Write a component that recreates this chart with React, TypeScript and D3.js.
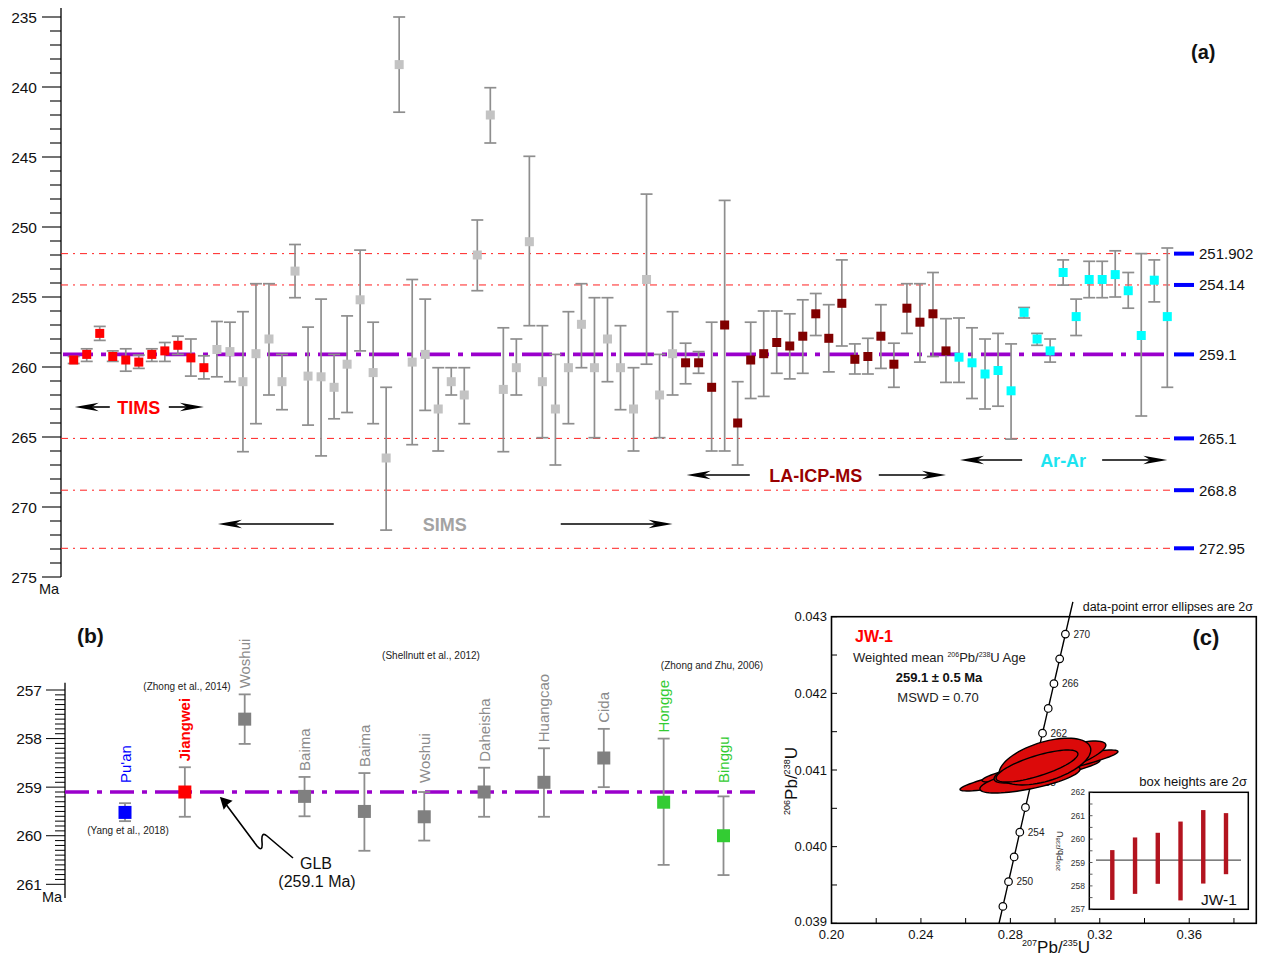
import React from 'react';
import * as d3 from 'd3';

const FONT = '"Liberation Sans", Arial, Helvetica, sans-serif';

// ---------- Panel (a): compiled ages, rows are [age, young bound, old bound] in Ma ----------
const timsAges: [number, number, number][] = [
  [259.5, 259.25, 259.75], [259.1, 258.7, 259.6], [257.6, 257.1, 258.1], [259.25, 258.85, 259.6],
  [259.5, 258.7, 260.3], [259.65, 259.15, 260.1], [259.1, 258.7, 259.6], [258.85, 258.25, 259.6],
  [258.45, 257.8, 259.1], [259.35, 258.0, 260.65], [260.05, 259.2, 260.85],
];
const simsAges: [number, number, number][] = [
  [258.75, 256.75, 260.7], [258.9, 256.8, 261.05], [261.05, 256.05, 266.05], [259.05, 254.05, 264.05],
  [258.0, 254.05, 262.0], [261.05, 259.1, 263.05], [253.15, 251.25, 255.05], [260.65, 257.15, 264.15],
  [260.7, 255.15, 266.35], [261.45, 259.1, 263.7], [259.8, 256.35, 263.25], [255.2, 251.65, 258.85],
  [260.4, 256.8, 264.05], [266.5, 261.45, 271.65], [238.4, 235.0, 241.8], [259.65, 253.75, 265.55],
  [259.1, 255.15, 263.1], [263.0, 260.05, 266.0], [261.05, 260.05, 262.0], [262.0, 260.05, 264.05],
  [252.0, 249.5, 254.55], [242.0, 240.05, 244.0], [261.6, 257.2, 266.05], [260.05, 258.0, 262.0],
  [251.05, 244.95, 257.05], [261.05, 257.05, 265.05], [263.0, 259.1, 267.0], [260.05, 256.05, 264.05],
  [256.95, 254.05, 260.05], [260.05, 255.05, 265.05], [258.0, 255.05, 261.05], [260.05, 257.05, 263.05],
  [263.0, 260.05, 266.0], [253.75, 247.65, 259.8], [262.0, 259.1, 265.05], [259.05, 256.05, 262.0],
];
const laIcpMsAges: [number, number, number][] = [
  [259.7, 258.3, 261.2], [259.7, 258.9, 260.45], [261.45, 256.8, 266.0], [257.0, 248.1, 266.0],
  [264.0, 261.05, 267.0], [259.5, 256.8, 262.25], [259.05, 256.0, 262.1], [258.25, 256.0, 260.45],
  [258.5, 256.2, 260.85], [257.8, 255.2, 260.45], [256.2, 254.75, 257.75], [257.95, 255.55, 260.35],
  [255.45, 252.35, 258.5], [259.45, 258.35, 260.5], [259.25, 257.95, 260.5], [257.8, 255.55, 260.1],
  [259.8, 258.3, 261.45], [255.8, 254.05, 257.6], [256.8, 254.05, 259.65], [256.2, 253.25, 259.25],
  [258.85, 256.55, 261.1],
];
const arArAges: [number, number, number][] = [
  [259.3, 256.5, 261.1], [259.7, 257.2, 262.25], [260.5, 258.0, 263.0], [260.25, 257.6, 262.8],
  [261.7, 258.35, 265.15], [256.1, 255.75, 256.5], [258.0, 257.6, 258.45], [258.85, 258.0, 259.65],
  [253.25, 252.35, 254.15], [256.4, 255.15, 257.75], [253.75, 252.45, 255.05], [253.75, 252.45, 255.05],
  [253.4, 251.7, 255.0], [254.55, 253.25, 255.8], [257.75, 251.9, 263.5], [253.8, 252.35, 255.35],
  [256.4, 251.5, 261.45],
];
const methodNames = ['TIMS', 'SIMS', 'LA-ICP-MS', 'Ar-Ar'];
const methodMarkerColors = ['#ff0000', '#c3c3c3', '#800000', '#00ffff'];
const methodTextColors = ['#ff0000', '#a3a3a3', '#990000', '#1de4f0'];

const ageTicksA = [235, 240, 245, 250, 255, 260, 265, 270, 275];
const boundaryAges = [251.902, 254.14, 259.1, 265.1, 268.8, 272.95];
const boundaryLabels = ['251.902', '254.14', '259.1', '265.1', '268.8', '272.95'];
const glbAge = 259.1;

// ---------- Panel (b): intrusion ages ----------
const intrusionNames = ["Pu'an", 'Jiangwei', 'Woshui', 'Baima', 'Baima', 'Woshui', 'Daheisha', 'Huangcao', 'Cida', 'Hongge', 'Binggu'];
const intrusionAge = [259.52, 259.1, 257.6, 259.19, 259.5, 259.61, 259.1, 258.9, 258.4, 259.31, 260.0];
const intrusionYoung = [259.33, 258.59, 257.09, 258.79, 258.71, 259.1, 258.6, 258.2, 257.8, 258.0, 259.19];
const intrusionOld = [259.7, 259.61, 258.11, 259.6, 260.31, 260.1, 259.61, 259.61, 259.0, 260.6, 260.81];
const intrusionSource = ['yang', 'this', 'shellnutt', 'shellnutt', 'shellnutt', 'shellnutt', 'shellnutt', 'shellnutt', 'shellnutt', 'zhongzhu', 'zhongzhu'];
const ageTicksB = [257, 258, 259, 260, 261];

// ---------- Panel (c): sample JW-1 ----------
// error ellipses: 207Pb/235U, 206Pb/238U, 2-sigma errors and error correlation
const ellX = [0.28878, 0.29772, 0.28878, 0.29772, 0.29548, 0.29191];
const ellY = [0.040935, 0.041052, 0.040883, 0.041104, 0.041110, 0.041052];
const ellSx = [0.0313, 0.0304, 0.0224, 0.0250, 0.0205, 0.0183];
const ellSy = [0.000209, 0.000209, 0.000183, 0.000274, 0.000305, 0.000209];
const ellRho = [0.9, 0.9, 0.7, 0.8, 0.5, 0.75];
const concordiaMarkAges = [248, 250, 252, 254, 256, 258, 260, 262, 264, 266, 268, 270];
const concordiaLabelAges = [250, 254, 258, 262, 266, 270];
const ticksCX = [0.20, 0.24, 0.28, 0.32, 0.36];
const ticksCY = [0.039, 0.040, 0.041, 0.042, 0.043];
const jw1Young = [257.4, 257.66, 258.09, 257.38, 258.1, 258.5];
const jw1Old = [259.53, 260.07, 260.27, 260.75, 261.24, 261.11];
const insetTicks = [257, 258, 259, 260, 261, 262];
const jw1Mean = 259.1;

const LAMBDA238 = 1.55125e-10;
const LAMBDA235 = 9.8485e-10;
const concX = (ma: number) => Math.exp(LAMBDA235 * ma * 1e6) - 1;
const concY = (ma: number) => Math.exp(LAMBDA238 * ma * 1e6) - 1;

function Arrow({ x1, x2, y, color = '#000' }: { x1: number; x2: number; y: number; color?: string }) {
  const dir = Math.sign(x2 - x1);
  const hl = 24, hw = 4.2;
  const head = `M${x2},${y} L${x2 - dir * hl},${y - hw} L${x2 - dir * (hl - 7)},${y} L${x2 - dir * hl},${y + hw} Z`;
  return (
    <g>
      <line x1={x1} x2={x2 - dir * 10} y1={y} y2={y} stroke={color} strokeWidth={1.6} />
      <path d={head} fill={color} />
    </g>
  );
}

export default function App() {
  // ----- panel (a) scales -----
  const nA = timsAges.length + simsAges.length + laIcpMsAges.length + arArAges.length;
  const xA = d3.scaleLinear().domain([0, nA - 1]).range([73.7, 1167.3]);
  const yA = d3.scaleLinear().domain([235, 275]).range([17, 577]);
  const groups = [timsAges, simsAges, laIcpMsAges, arArAges];
  const ptsA: { i: number; age: number; lo: number; hi: number; g: number }[] = [];
  const spans: [number, number][] = [];
  let k = 0;
  groups.forEach((rows, g) => {
    const s = k;
    rows.forEach((r) => ptsA.push({ i: k++, age: r[0], lo: r[1], hi: r[2], g }));
    spans.push([s, k - 1]);
  });
  // label row: baseline y, distance from label centre to the start of each arrow
  const methodLayout = [
    { y: 407, left: 29, right: 30 },
    { y: 524, left: 111, right: 116 },
    { y: 475, left: 66, right: 63 },
    { y: 460, left: 41, right: 39 },
  ];
  const axA = 61;
  const lineEndA = 1172;

  // ----- panel (b) scales -----
  const xB = d3.scaleLinear().domain([0, intrusionNames.length - 1]).range([125, 723.5]);
  const yB = d3.scaleLinear().domain([257, 261]).range([690, 884.3]);
  const axB = 65;
  const srcColor: Record<string, string> = { yang: '#0000ff', this: '#ff0000', shellnutt: '#808080', zhongzhu: '#33cc33' };
  const labelColor: Record<string, string> = { yang: '#0000ff', this: '#ff0000', shellnutt: '#8c8c8c', zhongzhu: '#33cc33' };

  // ----- panel (c) scales -----
  const xC = d3.scaleLinear().domain([0.20, 0.39]).range([831.5, 1256.3]);
  const yC = d3.scaleLinear().domain([0.039, 0.043]).range([923.3, 616.7]);
  const concLine = d3.line<number>().x((t) => xC(concX(t))).y((t) => yC(concY(t)));
  const concAges = d3.range(246.6, 272.7, 0.2);
  const ellLine = d3.line<[number, number]>().x((d) => xC(d[0])).y((d) => yC(d[1]));
  const ellipsePath = (j: number) => {
    const pts: [number, number][] = d3.range(0, 73).map((s) => {
      const t = (s / 72) * Math.PI * 2;
      const r = ellRho[j];
      return [ellX[j] + ellSx[j] * Math.cos(t), ellY[j] + ellSy[j] * (r * Math.cos(t) + Math.sqrt(1 - r * r) * Math.sin(t))];
    });
    return ellLine(pts) + 'Z';
  };
  const xI = d3.scaleLinear().domain([0, jw1Young.length - 1]).range([1112.3, 1226]);
  const yI = d3.scaleLinear().domain([257, 262]).range([909.3, 792.3]);

  return (
    <svg width={1265} height={956} style={{ position: 'absolute', left: 0, top: 0, background: '#fff' }} fontFamily={FONT}>
      <rect width={1265} height={956} fill="#fff" />

      {/* ================= (a) ================= */}
      <line x1={axA} x2={axA} y1={8} y2={yA(275)} stroke="#000" strokeWidth={1.3} />
      {d3.range(235, 276, 1).map((v) => (
        <line key={'ma' + v} x1={v % 5 === 0 ? 42 : 50} x2={axA} y1={yA(v)} y2={yA(v)} stroke="#000" strokeWidth={1.1} />
      ))}
      {ageTicksA.map((v) => (
        <text key={'ta' + v} x={37} y={yA(v) + 5.5} fontSize={15.5} textAnchor="end" fill="#111">{v}</text>
      ))}
      <text x={39} y={594} fontSize={14.5} fill="#111">Ma</text>

      {boundaryAges.map((v, j) =>
        v === glbAge ? null : (
          <line key={'bl' + j} x1={axA} x2={lineEndA} y1={yA(v)} y2={yA(v)} stroke="#ff2020" strokeWidth={1} strokeDasharray="7,5,2,5" />
        )
      )}
      <line x1={axA + 2} x2={lineEndA - 6} y1={yA(glbAge)} y2={yA(glbAge)} stroke="#9a00cc" strokeWidth={3.6} strokeDasharray="30,8,5,8" />
      {boundaryAges.map((v, j) => (
        <g key={'bt' + j}>
          <line x1={1174} x2={1194} y1={yA(v)} y2={yA(v)} stroke="#0000ff" strokeWidth={4} />
          <text x={1199} y={yA(v) + 5.5} fontSize={15} fill="#111">{boundaryLabels[j]}</text>
        </g>
      ))}

      {ptsA.map((p) => (
        <g key={'pa' + p.i}>
          <line x1={xA(p.i)} x2={xA(p.i)} y1={yA(p.lo)} y2={yA(p.hi)} stroke="#8e8e8e" strokeWidth={1.7} />
          <line x1={xA(p.i) - 6} x2={xA(p.i) + 6} y1={yA(p.lo)} y2={yA(p.lo)} stroke="#8e8e8e" strokeWidth={1.7} />
          <line x1={xA(p.i) - 6} x2={xA(p.i) + 6} y1={yA(p.hi)} y2={yA(p.hi)} stroke="#8e8e8e" strokeWidth={1.7} />
        </g>
      ))}
      {ptsA.map((p) => (
        <rect key={'ma' + p.i} x={xA(p.i) - 4.5} y={yA(p.age) - 4.5} width={9} height={9} fill={methodMarkerColors[p.g]} />
      ))}

      {methodNames.map((name, g) => {
        const [s, e] = spans[g];
        const L = methodLayout[g];
        const cx = (xA(s) + xA(e)) / 2;
        return (
          <g key={'mn' + g}>
            <Arrow x1={cx - L.left} x2={xA(s) + 1} y={L.y} />
            <Arrow x1={cx + L.right} x2={xA(e)} y={L.y} />
            <text x={cx} y={L.y + 6.5} fontSize={18} fontWeight="bold" textAnchor="middle" fill={methodTextColors[g]}>{name}</text>
          </g>
        );
      })}
      <text x={1191} y={59} fontSize={20} fontWeight="bold" fill="#111">(a)</text>

      {/* ================= (b) ================= */}
      <text x={77} y={643} fontSize={21} fontWeight="bold" fill="#111">(b)</text>
      <line x1={axB} x2={axB} y1={682.7} y2={898} stroke="#000" strokeWidth={1.3} />
      {d3.range(0, 41).map((s) => {
        const v = 257 + s / 10;
        const major = s % 10 === 0;
        return <line key={'mb' + s} x1={major ? 46 : 55} x2={axB} y1={yB(v)} y2={yB(v)} stroke="#000" strokeWidth={1} />;
      })}
      {ageTicksB.map((v) => (
        <text key={'tb' + v} x={42} y={yB(v) + 5.5} fontSize={15.5} textAnchor="end" fill="#111">{v}</text>
      ))}
      <text x={42} y={902} fontSize={14.5} fill="#111">Ma</text>
      <line x1={axB} x2={755} y1={yB(glbAge)} y2={yB(glbAge)} stroke="#9a00cc" strokeWidth={3.6} strokeDasharray="24,8,5,8" />

      {intrusionNames.map((name, j) => {
        const x = xB(j);
        const col = srcColor[intrusionSource[j]];
        const top = yB(intrusionYoung[j]);
        const bottom = yB(intrusionOld[j]);
        const labelY = Math.min(top - 6, 783);
        return (
          <g key={'ib' + j}>
            <line x1={x} x2={x} y1={top} y2={bottom} stroke="#8e8e8e" strokeWidth={1.8} />
            <line x1={x - 6} x2={x + 6} y1={top} y2={top} stroke="#8e8e8e" strokeWidth={1.8} />
            <line x1={x - 6} x2={x + 6} y1={bottom} y2={bottom} stroke="#8e8e8e" strokeWidth={1.8} />
            <rect x={x - 6.5} y={yB(intrusionAge[j]) - 6.5} width={13} height={13} fill={col} />
            <text
              transform={`translate(${x + 5.5},${labelY}) rotate(-90)`}
              fontSize={15}
              fontWeight={intrusionSource[j] === 'this' ? 'bold' : 'normal'}
              fill={labelColor[intrusionSource[j]]}
            >
              {name}
            </text>
          </g>
        );
      })}
      <text x={128} y={834} fontSize={10} textAnchor="middle" fill="#222">(Yang et al., 2018)</text>
      <text x={187} y={690} fontSize={10} textAnchor="middle" fill="#222">(Zhong et al., 2014)</text>
      <text x={431} y={659} fontSize={10} textAnchor="middle" fill="#222">(Shellnutt et al., 2012)</text>
      <text x={712} y={669} fontSize={10} textAnchor="middle" fill="#222">(Zhong and Zhu, 2006)</text>

      {/* GLB pointer */}
      <path d="M293,858 L267,836 Q261,831 262,842 Q263,853 257,846 L225,803" fill="none" stroke="#000" strokeWidth={1.6} />
      <path d="M221,798 L231,801 L227,804 L224,808 Z" fill="#000" stroke="#000" strokeWidth={1.5} />
      <text x={316} y={869} fontSize={16} textAnchor="middle" fill="#111">GLB</text>
      <text x={317} y={887} fontSize={16} textAnchor="middle" fill="#111">(259.1 Ma)</text>

      {/* ================= (c) ================= */}
      <text x={1253} y={611} fontSize={12.5} textAnchor="end" fill="#111">data-point error ellipses are 2σ</text>
      <defs>
        <clipPath id="clipC">
          <rect x={700} y={598} width={560} height={325.3} />
        </clipPath>
      </defs>
      {d3.range(0.20, 0.3901, 0.02).map((v, j) => (
        <line key={'xc' + j} x1={xC(v)} x2={xC(v)} y1={923.3} y2={918} stroke="#000" strokeWidth={1} />
      ))}
      {d3.range(0.039, 0.04301, 0.0005).map((v, j) => (
        <line key={'yc' + j} x1={831.5} x2={837} y1={yC(v)} y2={yC(v)} stroke="#000" strokeWidth={1} />
      ))}
      {ticksCX.map((v) => (
        <text key={'lx' + v} x={xC(v)} y={939} fontSize={13} textAnchor="middle" fill="#111">{v.toFixed(2)}</text>
      ))}
      {ticksCY.map((v) => (
        <text key={'ly' + v} x={827} y={yC(v) + (v === 0.039 ? 3 : 4.5)} fontSize={13} textAnchor="end" fill="#111">{v.toFixed(3)}</text>
      ))}
      <text x={1056} y={953} fontSize={17} textAnchor="middle" fill="#111">
        <tspan fontSize={9} dy={-7}>207</tspan>
        <tspan dy={7}>Pb/</tspan>
        <tspan fontSize={9} dy={-7}>235</tspan>
        <tspan dy={7}>U</tspan>
      </text>
      <text transform="translate(797,781) rotate(-90)" fontSize={17} textAnchor="middle" fill="#111">
        <tspan fontSize={9} dy={-7}>206</tspan>
        <tspan dy={7}>Pb/</tspan>
        <tspan fontSize={9} dy={-7}>238</tspan>
        <tspan dy={7}>U</tspan>
      </text>

      <g clipPath="url(#clipC)">
        <path d={concLine(concAges) || ''} fill="none" stroke="#000" strokeWidth={1.4} />
      </g>
      {concordiaMarkAges.map((t) => (
        <circle key={'cm' + t} cx={xC(concX(t))} cy={yC(concY(t))} r={3.8} fill="#fff" stroke="#000" strokeWidth={1.2} />
      ))}
      {concordiaLabelAges.map((t) => (
        <text key={'cl' + t} x={xC(concX(t)) + 8} y={yC(concY(t)) + 3.5} fontSize={10} fill="#222">{t}</text>
      ))}
      {ellX.map((_, j) => (
        <path key={'el' + j} d={ellipsePath(j)} fill="#dc0a0a" stroke="#000" strokeWidth={1.4} />
      ))}
      <rect x={831.5} y={616.7} width={1256.3 - 831.5} height={923.3 - 616.7} fill="none" stroke="#000" strokeWidth={1.6} />

      <text x={855} y={642} fontSize={16} fontWeight="bold" fill="#ff0000">JW-1</text>
      <text x={853} y={662} fontSize={13} fill="#222">
        Weighted mean <tspan fontSize={7} dy={-5}>206</tspan>
        <tspan dy={5}>Pb/</tspan>
        <tspan fontSize={7} dy={-5}>238</tspan>
        <tspan dy={5}>U Age</tspan>
      </text>
      <text x={939} y={681.5} fontSize={13} fontWeight="bold" textAnchor="middle" fill="#111">259.1 ± 0.5 Ma</text>
      <text x={938} y={702} fontSize={13} textAnchor="middle" fill="#222">MSWD = 0.70</text>
      <text x={1206} y={645} fontSize={22} fontWeight="bold" textAnchor="middle" fill="#111">(c)</text>

      {/* inset: JW-1 ages */}
      <text x={1247} y={786} fontSize={13} textAnchor="end" fill="#111">box heights are 2σ</text>
      <rect x={1089.3} y={792.3} width={159} height={117} fill="#fff" stroke="#000" strokeWidth={1.5} />
      {d3.range(257, 262.01, 0.5).map((v, j) => (
        <line key={'it' + j} x1={1089.3} x2={1092.5} y1={yI(v)} y2={yI(v)} stroke="#333" strokeWidth={0.8} />
      ))}
      {insetTicks.map((v) => (
        <text key={'il' + v} x={1085} y={yI(v) + 3} fontSize={8.5} textAnchor="end" fill="#333">{v}</text>
      ))}
      <text transform="translate(1063,851) rotate(-90)" fontSize={9} textAnchor="middle" fill="#222">
        <tspan fontSize={6} dy={-3}>206</tspan>
        <tspan dy={3}>Pb/</tspan>
        <tspan fontSize={6} dy={-3}>238</tspan>
        <tspan dy={3}>U</tspan>
      </text>
      <line x1={1096} x2={1241} y1={yI(jw1Mean)} y2={yI(jw1Mean)} stroke="#555" strokeWidth={1.4} />
      {jw1Young.map((lo, j) => (
        <rect key={'ib' + j} x={xI(j) - 2.2} y={yI(jw1Old[j])} width={4.4} height={yI(lo) - yI(jw1Old[j])} fill="#b3141f" />
      ))}
      <text x={1201} y={905} fontSize={15.5} fill="#111">JW-1</text>
    </svg>
  );
}
